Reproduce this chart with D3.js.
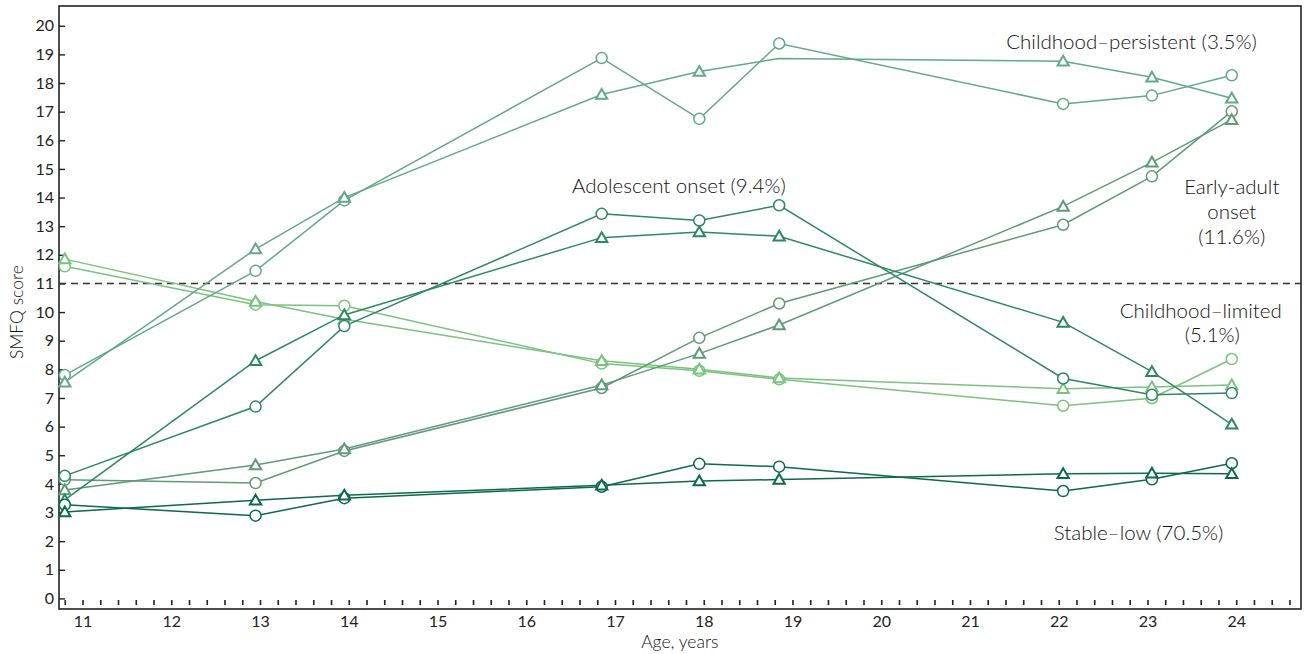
<html>
  <body style="margin:0;background:#fff">
    <style>
      text { font-family: Lato, "Open Sans", sans-serif; fill: #222; }
      .tick text { font-size: 16px; fill: #222; }
      .frame { fill: none; stroke: #222; stroke-width: 1.6px; }
      .line { fill: none; stroke-width: 1.5px; }
      .cutoff { stroke: #333; stroke-width: 1.6px; stroke-dasharray: 7,5; }
      .label { font-size: 20.5px; font-weight: 300; fill: #111; }
      .title { font-size: 17.5px; font-weight: 300; fill: #111; }
    </style>
    <script src="https://d3js.org/d3.v7.min.js"></script>
    <script type="text/javascript">
      // mean age at each assessment
      var ages = [10.8, 12.95, 13.95, 16.85, 17.95, 18.85, 22.05, 23.05, 23.95];
      var xTicks = [11, 12, 13, 14, 15, 16, 17, 18, 19, 20, 21, 22, 23, 24];
      var yTicks = d3.range(0, 21);

      // SMFQ scores per trajectory class (circle / triangle series)
      var stableLowC     = [3.27, 2.89, 3.5, 3.9, 4.7, 4.6, 3.75, 4.16, 4.72];
      var stableLowT     = [3.02, 3.43, 3.6, 3.95, 4.1, 4.15, 4.35, 4.37, 4.35];
      var adolescentC    = [4.28, 6.7, 9.51, 13.43, 13.2, 13.73, 7.68, 7.11, 7.17];
      var adolescentT    = [3.44, 8.3, 9.9, 12.6, 12.8, 12.65, 9.64, 7.92, 6.08];
      var earlyAdultC    = [4.14, 4.03, 5.15, 7.35, 9.1, 10.3, 13.05, 14.74, 17.01];
      var earlyAdultT    = [3.79, 4.66, 5.22, 7.45, 8.55, 9.55, 13.69, 15.23, 16.72];
      var persistentC    = [7.8, 11.44, 13.9, 18.87, 16.75, 19.38, 17.27, 17.56, 18.27];
      var persistentT    = [7.55, 12.2, 14.0, 17.6, 18.4, 18.86, 18.76, 18.2, 17.47];
      var limitedC       = [11.6, 10.26, 10.22, 8.2, 7.95, 7.65, 6.73, 6.99, 8.36];
      var limitedT       = [11.85, 10.37, 9.75, 8.3, 8.0, 7.7, 7.32, 7.38, 7.45];
      var cutoff = 11;

      var series = [
        {values: limitedC, marker: "circle", color: "#7cc27f"},
        {values: limitedT, marker: "triangle", color: "#7cc27f"},
        {values: persistentC, marker: "circle", color: "#62a88b"},
        {values: persistentT, marker: "triangle", color: "#62a88b", hide: [5]},
        {values: earlyAdultC, marker: "circle", color: "#5f9a78"},
        {values: earlyAdultT, marker: "triangle", color: "#5f9a78"},
        {values: adolescentC, marker: "circle", color: "#2d8862"},
        {values: adolescentT, marker: "triangle", color: "#2d8862"},
        {values: stableLowC, marker: "circle", color: "#0d6a48"},
        {values: stableLowT, marker: "triangle", color: "#0d6a48"}
      ];

      // label anchor: one [age, score] per line
      var labels = [
        {lines: ["Childhood\u2013persistent (3.5%)"], at: [[22.82, 19.2]]},
        {lines: ["Adolescent onset (9.4%)"], at: [[17.72, 14.16]]},
        {lines: ["Early-adult", "onset", "(11.6%)"], at: [[23.95, 14.12], [23.95, 13.25], [23.95, 12.38]]},
        {lines: ["Childhood\u2013limited", "(5.1%)"], at: [[23.6, 9.79], [23.73, 8.95]]},
        {lines: ["Stable\u2013low (70.5%)"], at: [[22.9, 2.04]]}
      ];

      var svg = d3.select("body").append("svg")
          .attr("width", 1304)
          .attr("height", 654),
        margin = {top: 6, right: 3, bottom: 45, left: 59},
        width = 1304 - margin.left - margin.right,
        height = 654 - margin.top - margin.bottom,
        g = svg.append("g")
          .attr("transform", "translate(" + margin.left + "," + margin.top + ")");

      var x = d3.scaleLinear()
        .domain([10.735, 24.73])
        .range([0, width]);

      var y = d3.scaleLinear()
        .domain([-0.37, 20.69])
        .range([height, 0]);

      // frame
      g.append("rect")
        .attr("class", "frame")
        .attr("width", width)
        .attr("height", height);

      // minor ticks along the bottom, every 0.2 years
      g.append("g")
        .attr("transform", "translate(0," + (height - 4) + ")")
        .call(d3.axisTop(x)
          .tickValues(d3.range(54, 124).map(function(d) { return d / 5; }))
          .tickSize(5)
          .tickFormat(""))
        .call(function(a) { a.select(".domain").remove(); })
        .selectAll("line").attr("stroke", "#222").attr("stroke-width", 1.6);

      // x labels
      g.append("g")
        .attr("transform", "translate(0," + height + ")")
        .call(d3.axisBottom(x).tickValues(xTicks).tickSize(0).tickPadding(7))
        .call(function(a) { a.select(".domain").remove(); });

      // y axis
      g.append("g")
        .call(d3.axisRight(y).tickValues(yTicks).tickSize(6).tickFormat(""))
        .call(function(a) { a.select(".domain").remove(); })
        .selectAll("line").attr("stroke", "#222").attr("stroke-width", 1.4);
      g.append("g")
        .call(d3.axisLeft(y).tickValues(yTicks).tickSize(0).tickPadding(5))
        .call(function(a) { a.select(".domain").remove(); });

      // SMFQ cut-off
      g.append("line")
        .attr("class", "cutoff")
        .attr("x1", 0)
        .attr("x2", width)
        .attr("y1", y(cutoff))
        .attr("y2", y(cutoff));

      var line = d3.line()
        .x(function(d, i) { return x(ages[i]); })
        .y(function(d) { return y(d); });

      var circle = d3.symbol().type(d3.symbolCircle).size(95);
      var tri = d3.symbol().type(d3.symbolTriangle).size(55);

      series.forEach(function(s) {
        g.append("path")
          .datum(s.values)
          .attr("class", "line")
          .attr("stroke", s.color)
          .attr("d", line);
      });

      series.forEach(function(s) {
        var pts = s.values.map(function(d, i) { return {v: d, i: i}; })
          .filter(function(d) { return !(s.hide && s.hide.indexOf(d.i) >= 0); });
        g.selectAll(null)
          .data(pts)
          .enter().append("path")
          .attr("transform", function(d) {
            return "translate(" + x(ages[d.i]) + "," + (y(d.v) + (s.marker == "triangle" ? 1 : 0)) + ")";
          })
          .attr("d", s.marker == "circle" ? circle : tri)
          .attr("fill", "#fff")
          .attr("stroke", s.color)
          .attr("stroke-width", s.marker == "circle" ? 1.5 : 2);
      });

      // class labels
      labels.forEach(function(l) {
        l.lines.forEach(function(s, k) {
          g.append("text")
            .attr("class", "label")
            .attr("text-anchor", "middle")
            .attr("x", x(l.at[k][0]))
            .attr("y", y(l.at[k][1]))
            .text(s);
        });
      });

      // axis titles
      svg.append("text")
        .attr("class", "title")
        .attr("x", margin.left + x(17.73))
        .attr("y", 648)
        .attr("text-anchor", "middle")
        .text("Age, years");

      svg.append("text")
        .attr("class", "title")
        .attr("transform", "translate(23," + (margin.top + y(10)) + ") rotate(-90)")
        .attr("text-anchor", "middle")
        .text("SMFQ score");
    </script>
  </body>
</html>
